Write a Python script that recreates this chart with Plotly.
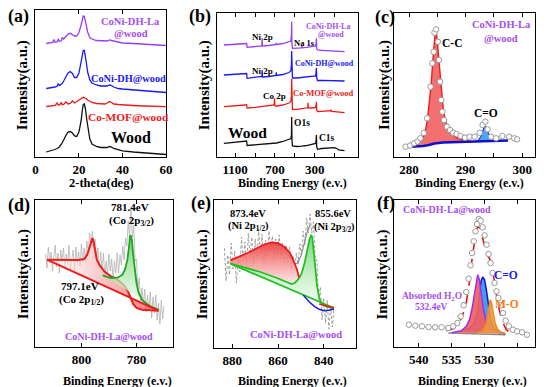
import plotly.graph_objects as go

W, H = 550, 387
FONT = "Liberation Serif"

# ---------------- (a) XRD ----------------
two_theta = [5, 6, 7, 8, 8.5, 9, 10, 10.5, 11, 12, 12.3, 13, 14, 15, 16, 17, 18, 19, 20, 21, 21.5,
             22, 22.5, 23, 23.5, 24, 25, 26, 28, 30, 32, 33, 34, 35, 36, 38, 40, 45, 50, 55, 60]
xrd_wood = [5.0, 5.5, 6.0, 6.7, 7.0, 7.5, 8.5, 9.0, 10.0, 13.0, 14.0, 17.0, 21.5, 25.0, 25.5, 24.0, 21.0,
            20.5, 25.0, 36.0, 46.0, 52.5, 53.0, 48.0, 39.0, 30.0, 18.0, 13.0, 10.5, 9.5, 9.0, 9.5, 10.5,
            10.0, 8.5, 7.0, 6.2, 5.0, 4.2, 3.5, 2.5]
xrd_comof = [50.5, 50.7, 51, 51.2, 51.3, 51.5, 54, 51.7, 52, 54.5, 52.2, 52.5, 55, 53, 53.5, 56, 54, 55.5,
             57.5, 59, 59.5, 59.7, 59.5, 59, 58, 57, 55.5, 54.5, 53.5, 53, 53, 54, 55.5, 54.5, 53, 52.5,
             52, 51.5, 51, 50.7, 50.3]
xrd_conidh = [68.5, 68.7, 69, 69.5, 69.7, 70, 70.7, 73.5, 71.5, 73, 73.5, 76, 80, 84, 85.5, 83.5, 79.5,
              79.5, 84, 94, 102, 106.5, 106.5, 101, 93, 85, 77, 74, 72, 71, 70.5, 71, 72, 71.5, 70, 68.5,
              68, 67, 66.2, 65.5, 64.5]
xrd_conidhla = [113.5, 113.7, 114, 114.5, 117.5, 114.7, 115, 118, 115.5, 116.5, 119.5, 118, 120.5, 123,
                123.7, 122.5, 121, 121, 124.5, 132, 137.5, 141, 140.5, 136, 130, 125, 119.5, 118, 116.5,
                116, 115.5, 116, 117, 116.5, 115.5, 114.5, 114, 113.5, 113, 112.5, 111.5]

# ---------------- (b) XPS survey ----------------
survey_be = [1214, 1100, 1000, 985, 980, 900, 840, 832, 829, 826, 760, 708, 704, 700, 690, 687, 684, 620,
             560, 540, 534, 532, 529, 524, 480, 433, 430, 427, 380, 370, 367, 364, 330, 292, 286, 283, 280,
             272, 230, 150, 140, 137, 134, 100, 70, 60, 0]
survey_wood = [13.7, 14.5, 15.5, 16, 11.5, 12, 12.4, 12.5, 12.5, 12.6, 13.2, 13.8, 13.8, 13.9, 14, 14, 14,
               15.5, 17.5, 18.5, 22, 40, 17, 11, 10.5, 10.8, 10.8, 10.8, 11.5, 11.7, 11.8, 11.8, 12.5, 13.5,
               17, 22, 10, 7.7, 8.5, 9, 9, 9.2, 9.2, 9.3, 8, 7, 6.3]
survey_comof = [50.3, 51, 52, 52.5, 49, 49.7, 50.2, 50.3, 50.3, 50.4, 51, 52, 58.7, 51.5, 51, 51, 51, 52,
                54, 55.5, 62, 78, 53, 47.5, 47.7, 48.2, 48.2, 48.2, 49, 49.2, 54.3, 49.2, 49, 49.5, 52,
                55.3, 47, 45.5, 45.7, 46.2, 46.3, 47.5, 45.5, 45.3, 45, 44.7, 44.3]
survey_conidh = [82, 82.5, 83, 83.5, 78.7, 79.5, 80, 80.5, 87, 80, 80.5, 81.3, 81.4, 81.4, 81.5, 84.7, 81.5,
                 82.5, 84.5, 86, 93, 106, 83, 79, 79, 79.5, 79.5, 79.5, 80, 80, 80, 80, 80.5, 81, 85, 89,
                 79, 76.5, 76.7, 76.7, 76.6, 76.6, 76.6, 76.5, 76.3, 76.2, 76]
survey_conidhla = [112, 112.5, 113, 113.5, 109.7, 110.2, 110.7, 111, 118.7, 111, 111.5, 112.2, 112.3,
                   112.4, 112.5, 114, 112.5, 113.5, 115, 116, 122, 135.3, 113, 108.7, 108.8, 109.2, 112,
                   109.2, 109.7, 109.8, 109.8, 109.8, 110.2, 111, 114, 118.7, 108.5, 107, 106.7, 106.2,
                   106.1, 106.1, 106.1, 106, 105.7, 105.6, 105.3]

# ---------------- (c) C 1s ----------------
c_data_be = [279.4, 280.2, 280.9, 281.5, 282.0, 282.6, 283.2, 283.8, 284.1, 284.35, 284.5, 284.8, 285.1,
             285.3, 285.5, 285.7, 285.9, 286.2, 286.7, 287.25, 287.8, 288.4, 289.1, 289.9, 290.7, 291.6,
             292.5, 293.0, 293.5, 293.9, 294.5, 295.4, 296.5, 297.7, 298.6, 299.1]
c_data_v = [10.3, 11.5, 13.7, 15.5, 18.7, 24, 38.7, 70.3, 93.7, 105.3, 124.3, 127.7, 115.3, 97, 75.3, 57,
            45.3, 37, 30.3, 27, 24.3, 23, 21, 19.3, 20.3, 20.3, 24.3, 32, 35.3, 27.7, 20.3, 18.7, 21, 20.3,
            18.7, 17.7]
c_fit_be = [279.8, 280.5, 281.5, 282.3, 282.8, 283.2, 283.6, 283.9, 284.2, 284.45, 284.65, 284.85, 285.05,
            285.3, 285.55, 285.8, 286.1, 286.5, 287, 287.6, 288.3, 289.2, 290.2, 291.2]
c_fit_v = [10.5, 11.5, 13.5, 18, 24, 35, 54, 72, 95, 117, 127, 124, 112, 95, 75, 59, 45, 35, 28, 23, 19.5,
           17.5, 16, 15.2]
c_fit_base = [10, 10.2, 10.5, 11, 11.5, 12, 12.5, 13, 13.5, 13.8, 14, 14.2, 14.3, 14.4, 14.5, 14.6, 14.7,
              14.8, 14.9, 15, 15, 15.1, 15.2, 15.2]
c_base_be = [279.6, 281, 282.5, 283.5, 284.5, 286, 288, 290, 292, 294, 296, 297.5]
c_base_v = [10, 10.3, 11, 12, 13.5, 14.5, 14.7, 15, 15.3, 15.7, 16.2, 16.5]
c_co_be = [291.5, 292.2, 292.7, 293.0, 293.3, 293.55, 293.8, 294.1, 294.5, 295.0]
c_co_v = [15.3, 16.5, 20.5, 26, 30, 30.5, 27, 21, 17, 15.8]
c_co_base = [15.3, 15.5, 15.6, 15.7, 15.8, 15.8, 15.9, 15.9, 16, 16.1]

# ---------------- (d) Co 2p ----------------
d_noise_be = [813 - 0.5 * i for i in range(87)]
d_noise_v = [93, 79, 100, 84, 95, 76, 91, 102, 80, 94,
             74, 97, 85, 99, 78, 93, 82, 102, 78, 91,
             97, 76, 100, 84, 95, 81, 103, 85, 99, 85,
             106, 95, 114, 101, 116, 99, 108, 87, 99, 79,
             95, 78, 94, 70, 86, 72, 93, 76, 88, 67,
             86, 74, 94, 74, 92, 82, 101, 87, 109, 101,
             126, 110, 138, 110, 122, 86, 88, 58, 69, 44,
             59, 42, 58, 35, 52, 36, 55, 29, 50, 34,
             52, 27, 44, 23, 47, 28, 41]
d_red_be = [812.5, 805.95, 801.2, 799.0, 797.9, 796.9, 796.3, 796.0, 795.5, 795.0, 794.4, 793.5, 791.7,
            789.3, 786.9, 784.5, 783.1, 782.1, 781.2, 780.0, 778.0, 775.0, 772.0]
d_red_v = [87.3, 87, 87, 88, 92.3, 100.7, 107.3, 109, 104, 94, 87.3, 82.3, 75.7, 70.7, 67.3, 61.7, 55.7,
           49, 43, 39, 37.3, 36.7, 36.3]
d_base_be = [812.5, 772.0]
d_base_v = [87.3, 36.3]
d_green_be = [792.3, 789.3, 786.7, 785.1, 784.2, 783.3, 782.7, 782.4, 782.0, 781.7, 781.2, 780.7, 780.0,
              779.2, 778.0, 776.2, 774.4, 772.0]
d_green_v = [71.7, 69, 69.7, 72.3, 77.3, 87.3, 100.7, 109.7, 111.7, 107.3, 92.3, 77.3, 64, 54, 47.3, 43,
             40, 37.3]

# ---------------- (e) Ni 2p ----------------
e_noise_be = [883.5 - 0.75 * i for i in range(65)]
e_noise_v = [100, 67, 93, 73, 105, 79, 97, 65, 90, 76,
             111, 86, 106, 80, 115, 90, 111, 82, 109, 88,
             119, 94, 114, 84, 108, 91, 117, 97, 112, 87,
             109, 91, 113, 89, 105, 83, 103, 84, 101, 78,
             93, 77, 95, 83, 104, 93, 117, 103, 130, 115,
             134, 115, 126, 88, 88, 48, 61, 28, 50, 25,
             48, 19, 42, 21, 40]
e_env_be = [857.7, 854.8, 852.7, 851.3, 849.8, 848.4, 847.0, 845.8]
e_env_v = [100, 90, 84.3, 85, 93.3, 106.7, 118.3, 123.3]
e_base_be = [880.86, 835.55]
e_base_v = [84.3, 40]
e_red_be = [880.86, 877.7, 873.4, 869.1, 865.6, 862.7, 859.9, 857.0, 854.8, 853.1, 851.7, 850.8]
e_red_v = [87.7, 90.7, 95, 100, 104, 105.7, 105, 100.7, 95, 86.7, 78.3, 70.5]
e_green_be = [880.86, 874.9, 867.7, 860.5, 855.6, 854.1, 852.7, 851.3, 849.8, 848.4, 847.3, 846.3, 845.5,
              845.0, 844.4, 843.7, 843.0, 842.0, 840.8, 839.1, 835.55]
e_green_v = [84.3, 80.7, 76, 70, 65, 64, 65, 68.3, 74, 85, 96.7, 108.3, 113.3, 110, 96.7, 80, 63.3, 50,
             44, 41.7, 40]
e_blue_be = [849.0, 846.3, 844.1, 842.0, 839.8, 837.7, 835.55]
e_blue_v = [53, 46, 41.7, 38.7, 37.3, 37.7, 39]
e_red2_be = [842.0, 839.1, 835.55]
e_red2_v = [44, 42, 40.3]

# ---------------- (f) O 1s ----------------
f_data_be = [541.5, 540.5, 539.5, 538.5, 537.5, 536.5, 535.5, 534.75, 534.1, 533.6, 533.15, 532.75, 532.4,
             532.1, 531.85, 531.6, 531.35, 531.1, 530.85, 530.55, 530.25, 529.95, 529.65, 529.35, 529.05,
             528.75, 528.45, 528.15, 527.85, 527.5, 527.15, 526.75, 526.25, 525.65, 525.0, 524.25, 523.5]
f_data_v = [22.3, 21.3, 20.7, 20, 19.7, 19.7, 19, 20.7, 24, 30.7, 41.7, 55, 68.3, 81.7, 94, 105.7, 115.7,
            123, 128, 126.3, 119.7, 111.7, 102.3, 93, 84, 74, 64, 55.7, 49, 41.7, 34, 26.3, 20.7, 17.3,
            15.7, 14.7, 12.3]
f_env_be = [535.75, 534.75, 534.0, 533.35, 532.75, 532.25, 531.85, 531.5, 531.2, 530.95, 530.65, 530.25,
            529.9, 529.6, 529.25, 528.95, 528.65, 528.35, 528.0, 527.6, 527.15, 526.65, 526.0, 525.25]
f_env_v = [16.3, 18.3, 22.3, 30.7, 44, 65.7, 89, 107.3, 117.3, 120.7, 118.3, 109, 99, 92.3, 89, 84, 74,
           60.7, 45.7, 34, 24, 17.3, 14, 12.3]
f_h2o_be = [535.0, 533.5, 532.75, 532.25, 531.85, 531.5, 531.25, 531.0, 530.75, 530.45, 530.1, 529.65,
            529.0, 528.0, 527.0]
f_h2o_v = [14.3, 16.3, 20.7, 27.3, 39, 54, 65.7, 72.3, 67.3, 52.3, 35.7, 24, 17.3, 14.7, 13.7]
f_co_be = [533.5, 532.25, 531.5, 531.0, 530.75, 530.5, 530.25, 529.95, 529.65, 529.35, 529.0, 528.5,
           527.75, 526.85]
f_co_v = [15.7, 19, 24, 35.7, 52.3, 65.7, 70, 67.3, 55.7, 39, 25.7, 18.3, 15, 13.3]
f_mo_be = [531.25, 530.25, 529.75, 529.45, 529.25, 529.1, 528.9, 528.65, 528.35, 528.0, 527.5, 526.75]
f_mo_v = [14, 16.3, 22.3, 34, 44, 47.3, 44, 34, 24, 18, 15, 13.3]
f_base_be = [535.5, 526.75]
f_base_v = [14, 12.3]

# ---------------- colours ----------------
PURPLE = "#9b3df2"
PURPLE_T = "#a54ef0"
BLUE = "#1a1af0"
RED = "#ee1a1a"
BLACK = "#111111"

fig = go.Figure()


def axn(i):
    s = "" if i == 1 else str(i)
    return "x" + s, "y" + s


def add(i, x, y, color, width=1.3, dash=None, **kw):
    xa, ya = axn(i)
    fig.add_trace(go.Scatter(x=x, y=y, xaxis=xa, yaxis=ya, mode="lines",
                             line=dict(color=color, width=width, dash=dash),
                             hoverinfo="skip", **kw))


def circles(i, x, y):
    xa, ya = axn(i)
    fig.add_trace(go.Scatter(x=x, y=y, xaxis=xa, yaxis=ya, mode="markers",
                             marker=dict(symbol="circle", size=5.5, color="white",
                                         line=dict(color="#9a9a9a", width=1)),
                             hoverinfo="skip"))


# (a)
add(1, two_theta, xrd_wood, BLACK)
add(1, two_theta, xrd_comof, RED)
add(1, two_theta, xrd_conidh, BLUE)
add(1, two_theta, xrd_conidhla, PURPLE)

# (b)
add(2, survey_be, survey_wood, BLACK)
add(2, survey_be, survey_comof, RED)
add(2, survey_be, survey_conidh, BLUE)
add(2, survey_be, survey_conidhla, PURPLE)

# (c)
add(3, c_fit_be, c_fit_base, "rgba(0,0,0,0)", width=0)
add(3, c_fit_be, c_fit_v, "#e8201c", width=1.4, fill="tonexty", fillcolor="rgba(242,100,100,0.92)")
add(3, c_co_be, c_co_base, "rgba(0,0,0,0)", width=0)
add(3, c_co_be, c_co_v, "#1a3fd8", width=1.2, fill="tonexty", fillcolor="rgba(60,160,240,0.92)")
add(3, c_base_be, c_base_v, "#1010c8", width=2.4)
circles(3, c_data_be, c_data_v)

# (d)
add(4, d_noise_be, d_noise_v, "rgba(175,175,175,0.85)", width=0.9)
add(4, d_red_be, d_red_v, "#ee1c1c", width=2, fill="toself",
    fillgradient=dict(type="horizontal",
                      colorscale=[[0, "rgba(255,255,255,0.5)"], [1, "rgba(240,95,95,0.9)"]]))
add(4, d_green_be, d_green_v, "#1fa51f", width=1.8, fill="toself",
    fillgradient=dict(type="vertical",
                      colorscale=[[0, "rgba(240,255,240,0.6)"], [1, "rgba(95,205,95,0.9)"]]))
add(4, d_base_be, d_base_v, "#ee1c1c", width=2)

# (e)
add(5, e_noise_be, e_noise_v, "rgba(140,140,140,0.9)", width=0.9, dash="3px,2px")
add(5, e_env_be, e_env_v, "rgba(130,130,130,0.9)", width=1.2)
poly_lower = [(b, v) for b, v in zip(e_green_be, e_green_v) if b >= e_red_be[-1]]
poly_x = e_red_be + [b for b, v in reversed(poly_lower)]
poly_y = e_red_v + [v for b, v in reversed(poly_lower)]
add(5, poly_x, poly_y, "rgba(0,0,0,0)", width=0, fill="toself",
    fillgradient=dict(type="vertical",
                      colorscale=[[0, "rgba(255,232,232,0.85)"], [1, "rgba(238,60,60,0.92)"]]))
add(5, e_green_be, e_green_v, "#22c022", width=1.8, fill="toself",
    fillgradient=dict(type="vertical",
                      colorscale=[[0, "rgba(245,255,245,0.6)"], [1, "rgba(95,210,95,0.9)"]]))
add(5, e_base_be, e_base_v, "#22c022", width=1.8)
add(5, e_red_be, e_red_v, "#ee1c1c", width=1.8)
add(5, e_blue_be, e_blue_v, "#1a1ae0", width=1.5)
add(5, e_red2_be, e_red2_v, "#ee1c1c", width=1.5)

# (f)
add(6, f_base_be, f_base_v, "#8a8a8a", width=1.5)
add(6, f_co_be, f_co_v, "#1414c8", width=1.5, fill="toself", fillcolor="rgba(50,150,240,0.92)")
add(6, f_h2o_be, f_h2o_v, "#9b30f0", width=1.5, fill="toself", fillcolor="rgba(242,95,95,0.92)")
add(6, f_mo_be, f_mo_v, "#f08a24", width=1.5, fill="toself", fillcolor="rgba(242,150,60,0.9)")
add(6, f_env_be, f_env_v, "#e8101c", width=1.6, dash="dash")
circles(6, f_data_be, f_data_v)

# ---------------- axes ----------------
frames = [
    (33, 166, 10, 157, [0, 60], [0, 20, 40, 60], []),
    (218, 362, 13, 157, [1282.7, -139.5], [1100, 700, 300], [900, 500, 100]),
    (398, 542, 13, 157, [277.3, 302.3], [280, 290, 300], [285, 295]),
    (33, 173, 200, 347, [816.7, 766.8], [800, 780], []),
    (215, 360, 200, 348, [888, 825.7], [880, 860, 840], []),
    (398, 542, 200, 347, [543.8, 522.25], [540, 535, 530], [525]),
]
axes = {}
for i, (x0, x1, y0, y1, xr, tv, mv) in enumerate(frames, 1):
    s = "" if i == 1 else str(i)
    xa = dict(domain=[x0 / W, x1 / W], range=xr, anchor="y" + s,
              showline=True, mirror="ticks", linecolor="black", linewidth=1.4,
              ticks="inside", ticklen=4, tickwidth=1.3, tickcolor="black",
              tickmode="array", tickvals=tv, ticktext=[str(v) for v in tv],
              tickfont=dict(family=FONT, size=13, color="black", weight="bold"),
              showgrid=False, zeroline=False)
    if mv:
        xa["minor"] = dict(tickmode="array", tickvals=mv, ticks="inside", ticklen=4,
                           tickwidth=1.3, tickcolor="black", showgrid=False)
    axes["xaxis" + s] = xa
    axes["yaxis" + s] = dict(domain=[1 - y1 / H, 1 - y0 / H], range=[0, y1 - y0], anchor="x" + s,
                             showline=True, mirror=True, linecolor="black", linewidth=1.4,
                             ticks="", showticklabels=False, showgrid=False, zeroline=False)

# ---------------- text ----------------
texts = [
    # (x px, y px, text, size, colour, angle)
    (16, 16, "(a)", 18, "black", 0),
    (201, 16, "(b)", 18, "black", 0),
    (389, 17, "(c)", 18, "black", 0),
    (16, 205, "(d)", 18, "black", 0),
    (202, 203, "(e)", 18, "black", 0),
    (390, 203, "(f)", 18, "black", 0),
    (19.5, 85, "Intensity(a.u.)", 15, "black", -90),
    (205, 85, "Intensity(a.u.)", 15, "black", -90),
    (388, 85, "Intensity(a.u.)", 15, "black", -90),
    (20.5, 274, "Intensity(a.u.)", 15, "black", -90),
    (203, 274, "Intensity(a.u.)", 15, "black", -90),
    (386.5, 274, "Intensity(a.u.)", 15, "black", -90),
    (100, 183, "2-theta(deg)", 12.5, "black", 0),
    (294.5, 183, "Binding Energy (e.v.)", 12, "black", 0),
    (475, 183, "Binding Energy (e.v.)", 12, "black", 0),
    (116.7, 380.5, "Binding Energy (e.v.)", 12, "black", 0),
    (294.5, 380.5, "Binding Energy (e.v.)", 12, "black", 0),
    (478.5, 380.5, "Binding Energy (e.v.)", 12, "black", 0),
    # (a)
    (130, 22, "CoNi-DH-La", 10.5, PURPLE_T, 0),
    (130, 33.5, "@wood", 10.5, PURPLE_T, 0),
    (127.5, 78, "CoNi-DH@wood", 10.3, BLUE, 0),
    (128, 117, "Co-MOF@wood", 11.3, RED, 0),
    (130, 137, "Wood", 16, "black", 0),
    # (b)
    (331, 26, "CoNi-DH-La", 8, PURPLE_T, 0),
    (334, 35, "@wood", 8, PURPLE_T, 0),
    (264, 36.7, "Ni 2p", 9, "black", 0),
    (307, 43.3, "Na 1s", 8.5, "black", 0),
    (264, 70.7, "Ni 2p", 9, "black", 0),
    (327, 63.3, "CoNi-DH@wood", 8, BLUE, 0),
    (277, 96, "Co 2p", 9, "black", 0),
    (326, 93.3, "Co-MOF@wood", 8.5, RED, 0),
    (249, 132.7, "Wood", 15.5, "black", 0),
    (305, 123.3, "O1s", 9.5, "black", 0),
    (330, 137.7, "C1s", 9.5, "black", 0),
    # (c)
    (457, 43.3, "C-C", 11.5, "black", 0),
    (491.7, 113.3, "C=O", 11.5, "black", 0),
    (508, 25, "CoNi-DH-La", 10.5, PURPLE_T, 0),
    (507, 38.3, "@wood", 10.5, PURPLE_T, 0),
    # (d)
    (129.5, 207.3, "781.4eV", 11, "black", 0),
    (131, 221.3, "(Co 2p<sub>3/2</sub>)", 11, "black", 0),
    (78, 286.3, "797.1eV", 11, "black", 0),
    (80, 299.7, "(Co 2p<sub>1/2</sub>)", 11, "black", 0),
    (107.5, 336.3, "CoNi-DH-La@wood", 10, PURPLE_T, 0),
    # (e)
    (249.5, 213, "873.4eV", 10.5, "black", 0),
    (250, 226.3, "(Ni 2p<sub>1/2</sub>)", 10.5, "black", 0),
    (336, 213, "855.6eV", 10.5, "black", 0),
    (337.5, 227.3, "(Ni 2p<sub>3/2</sub>)", 10.5, "black", 0),
    (298.5, 334.7, "CoNi-DH-La@wood", 10.5, PURPLE_T, 0),
    # (f)
    (452.5, 209.7, "CoNi-DH-La@wood", 10, PURPLE_T, 0),
    (512, 274.7, "C=O", 11.5, "#2020e0", 0),
    (513, 304, "M-O", 11.5, "#f08020", 0),
    (436.5, 296.3, "Absorbed H<sub>2</sub>O", 9.5, PURPLE_T, 0),
    (436.5, 306.8, "532.4eV", 9.5, PURPLE_T, 0),
]
annotations = []
for x, y, t, s, c, a in texts:
    annotations.append(dict(x=x / W, y=1 - y / H, xref="paper", yref="paper", text=t,
                            showarrow=False, xanchor="center", yanchor="middle", textangle=a,
                            font=dict(family=FONT, size=s, color=c, weight="bold")))

fig.update_layout(width=W, height=H, margin=dict(l=0, r=0, t=0, b=0),
                  paper_bgcolor="white", plot_bgcolor="white", showlegend=False,
                  annotations=annotations, **axes)

fig.write_html("out.html", config={"displayModeBar": False},
               post_script="document.body.style.margin='0px';document.body.style.overflow='hidden';")
